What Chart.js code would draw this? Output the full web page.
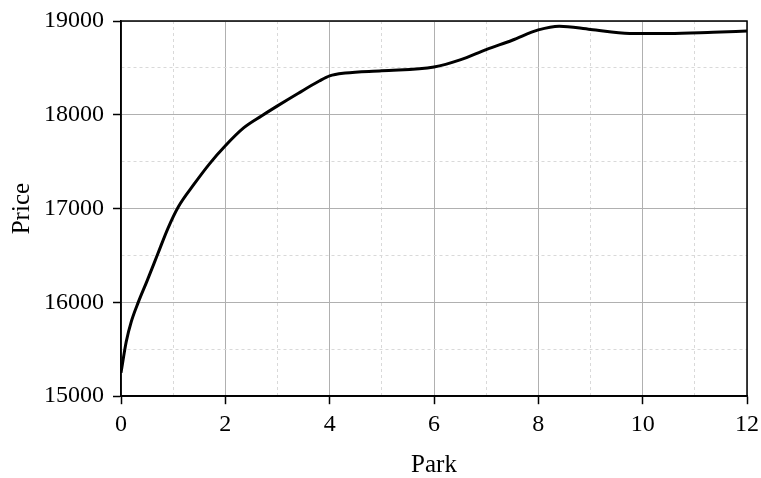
<!DOCTYPE html>
<html>
<head>
<meta charset="utf-8">
<style>
    html, body { margin: 0; padding: 0; background: #fff; }
    #wrap { width: 761px; height: 478px; }
</style>
<script src="https://cdn.jsdelivr.net/npm/chart.js@4/dist/chart.umd.min.js"></script>
</head>
<body>
<div id="wrap"><canvas id="priceChart" width="761" height="478"></canvas></div>
<script>
// values
const parkValues = [0, 0.1, 0.2, 0.33, 0.5, 0.7, 0.9, 1.1, 1.4, 1.7, 2, 2.35, 2.7, 3, 3.4, 3.8, 4, 4.3, 5, 6, 6.5, 7, 7.5, 8, 8.4, 9, 9.75, 10.5, 11.35, 12];
const priceValues = [15250, 15580, 15800, 16000, 16230, 16510, 16790, 17020, 17260, 17480, 17670, 17860, 17990, 18095, 18230, 18360, 18415, 18445, 18470, 18510, 18585, 18695, 18795, 18905, 18945, 18910, 18868, 18866, 18880, 18893];
const xTickLabels = ['0', '2', '4', '6', '8', '10', '12'];
const yTickLabels = ['15000', '16000', '17000', '18000', '19000'];

const serif = "'Liberation Serif', 'Times New Roman', serif";

// 주 눈금(라벨 있는 것)인지 확인
function isMajorX(v) { return xTickLabels.includes(String(v)); }
function isMajorY(v) { return yTickLabels.includes(String(v)); }

// 그래프 영역 테두리 (위, 오른쪽 포함)
const frame = {
    id: 'frame',
    afterDraw(chart) {
        const { ctx, chartArea: a } = chart;
        ctx.save();
        ctx.strokeStyle = '#000';
        ctx.lineWidth = 1.5;
        ctx.strokeRect(a.left, a.top, a.right - a.left, a.bottom - a.top);
        ctx.restore();
    }
};

const points = parkValues.map((x, i) => ({ x: x, y: priceValues[i] }));

new Chart(document.getElementById('priceChart').getContext('2d'), {
    type: 'line',
    data: {
        datasets: [{
            data: points,
            borderColor: '#000',
            borderWidth: 3,
            pointRadius: 0,
            fill: false,
            cubicInterpolationMode: 'monotone'
        }]
    },
    options: {
        responsive: false,
        animation: false,
        layout: { padding: { left: 10, right: 0, top: 0, bottom: 0 } },
        plugins: {
            legend: { display: false },
            tooltip: { enabled: false }
        },
        scales: {
            x: {
                type: 'linear',
                min: 0,
                max: 12,
                // 마지막 라벨 여백 조정
                afterFit: (s) => { s.paddingRight = 14; },
                ticks: {
                    stepSize: 1,
                    padding: 6,
                    color: '#000',
                    font: { family: serif, size: 24 },
                    autoSkip: false,
                    maxRotation: 0,
                    callback: (v) => isMajorX(v) ? String(v) : ''
                },
                grid: {
                    color: (c) => c.tick && isMajorX(c.tick.value) ? '#b0b0b0' : '#d9d9d9',
                    lineWidth: 1,
                    tickLength: 8,
                    tickColor: (c) => c.tick && isMajorX(c.tick.value) ? '#000' : 'rgba(0,0,0,0)',
                    tickWidth: 1.5
                },
                border: {
                    color: '#000',
                    width: 1.5,
                    dash: (c) => c.tick && !isMajorX(c.tick.value) ? [3, 3] : []
                },
                title: {
                    display: true,
                    text: 'Park',
                    color: '#000',
                    font: { family: serif, size: 25, lineHeight: 1 },
                    padding: { top: 8, bottom: 0 }
                }
            },
            y: {
                min: 15000,
                max: 19000,
                // 위쪽 여백 조정
                afterFit: (s) => { s.paddingTop = 21; },
                ticks: {
                    stepSize: 500,
                    padding: 9,
                    color: '#000',
                    font: { family: serif, size: 24 },
                    autoSkip: false,
                    callback: (v) => isMajorY(v) ? String(v) : ''
                },
                grid: {
                    color: (c) => c.tick && isMajorY(c.tick.value) ? '#b0b0b0' : '#d9d9d9',
                    lineWidth: 1,
                    tickLength: 8,
                    tickColor: (c) => c.tick && isMajorY(c.tick.value) ? '#000' : 'rgba(0,0,0,0)',
                    tickWidth: 1.5
                },
                border: {
                    color: '#000',
                    width: 1.5,
                    dash: (c) => c.tick && !isMajorY(c.tick.value) ? [3, 3] : []
                },
                title: {
                    display: true,
                    text: 'Price',
                    color: '#000',
                    font: { family: serif, size: 25, lineHeight: 1 },
                    padding: { top: 0, bottom: 0 }
                }
            }
        }
    },
    plugins: [frame]
});
</script>
</body>
</html>
